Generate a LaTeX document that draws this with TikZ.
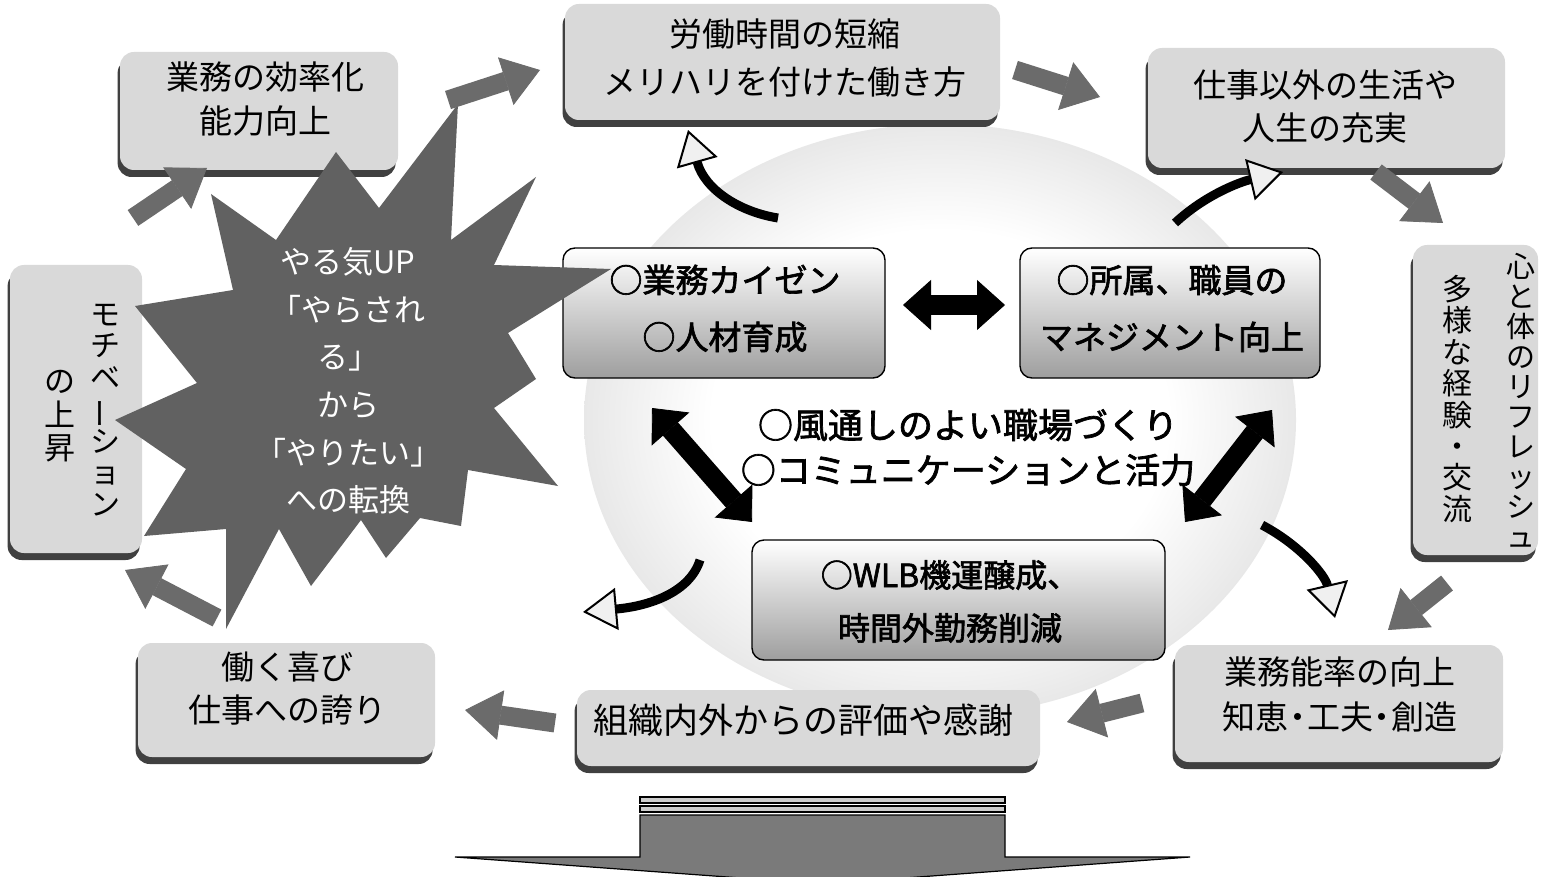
\documentclass[tikz,border=0pt]{standalone}
\usepackage{fontspec}
\setmainfont{Noto Sans CJK JP}
\newfontfamily\jpb[FakeBold=2]{Noto Sans CJK JP}
\usetikzlibrary{arrows.meta,shadows}
\pgfdeclareradialshading{halo}{\pgfpoint{0bp}{0bp}}{color(0bp)=(white); color(16bp)=(white); color(25bp)=(black!9); color(50bp)=(black!9)}
\newcommand\tatebou{\rotatebox[origin=c]{90}{ー}}
\newcommand\nakaten{\makebox[0.55em]{・}}
\tikzset{
  obox/.style={rounded corners=7pt, fill=black!15, draw=none, inner sep=0pt,
    drop shadow={shadow xshift=-1.2pt, shadow yshift=-3.5pt, fill=black!75, opacity=1}},
  cbox/.style={rounded corners=6pt, draw=black, line width=0.7pt, inner sep=0pt,
    top color=white, middle color=black!8, bottom color=black!38},
  otext/.style={align=center, inner sep=0pt, text=black},
  btext/.style={align=center, inner sep=0pt, text=black},
  barrow/.style={line width=9.5pt, draw=black!58,
    -{Triangle[length=18pt,width=25pt,line width=0.4pt]}},
  dblarrow/.style={line width=10pt, draw=black,
    {Triangle[length=14pt,width=25pt,line width=0.4pt]}-{Triangle[length=14pt,width=25pt,line width=0.4pt]}},
  carrow/.style={line width=4.5pt, draw=black,
    -{Triangle[length=17pt,width=21pt,fill=black!6,line width=1pt]}},
}
\begin{document}
\begin{tikzpicture}[x=0.5pt,y=-0.5pt]
\clip (0,0) rectangle (1541,877);
\fill[white] (0,0) rectangle (1541,877);

% background halo
\shade[shading=halo] (940,420) ellipse [x radius=178pt, y radius=148pt];

% outer boxes
\node[obox, minimum width=139pt, minimum height=59pt] (boxA) at (259,111) {};
\node[obox, minimum width=217.5pt, minimum height=58pt] (boxB) at (782.5,62) {};
\node[obox, minimum width=178.5pt, minimum height=60pt] (boxC) at (1326.5,108) {};
\node[obox, minimum width=62.5pt, minimum height=155pt] (boxD) at (1475.5,400) {};
\node[obox, minimum width=164pt, minimum height=58.5pt] (boxE) at (1339,703.5) {};
\node[obox, minimum width=231.5pt, minimum height=38pt] (boxF) at (808.5,728) {};
\node[obox, minimum width=148.5pt, minimum height=57pt] (boxG) at (286.5,700) {};
\node[obox, minimum width=66pt, minimum height=144pt] (boxH) at (76,409) {};

% centre boxes
\node[cbox, minimum width=161pt, minimum height=65pt] (boxI) at (724,313) {};
\node[cbox, minimum width=150pt, minimum height=65pt] (boxJ) at (1170,313) {};
\node[cbox, minimum width=206.5pt, minimum height=60pt] (boxK) at (958.5,600) {};

% star
\fill[black!62] (458,104) -- (451,240) -- (536,177) -- (494,265) -- (611,269) -- (508,333)
  -- (536,379) -- (494,408) -- (558,486) -- (468,470) -- (461,526) -- (420,518)
  -- (386,558) -- (361,520) -- (311,586) -- (279,529) -- (226,629) -- (226,529)
  -- (144,536) -- (186,469) -- (115,420) -- (197,383) -- (135,306) -- (233,290)
  -- (211,194) -- (276,240) -- (336,152) -- (379,208) -- cycle;

% block arrows around the cycle
\coordinate (ab1) at (448,100); \coordinate (ab2) at (540,70);
\coordinate (bc1) at (1015,70); \coordinate (bc2) at (1100,97);
\coordinate (cd1) at (1376,172); \coordinate (cd2) at (1443,223);
\coordinate (de1) at (1447,583); \coordinate (de2) at (1388,630);
\coordinate (ef1) at (1142,703); \coordinate (ef2) at (1067,722);
\coordinate (fg1) at (555,723); \coordinate (fg2) at (465,710);
\coordinate (gh1) at (217,618); \coordinate (gh2) at (125,570);
\coordinate (ha1) at (133,218); \coordinate (ha2) at (207,168);
\draw[barrow] (ab1) -- (ab2);
\draw[barrow] (bc1) -- (bc2);
\draw[barrow] (cd1) -- (cd2);
\draw[barrow] (de1) -- (de2);
\draw[barrow] (ef1) -- (ef2);
\draw[barrow] (fg1) -- (fg2);
\draw[barrow] (gh1) -- (gh2);
\draw[barrow] (ha1) -- (ha2);

% black double arrows
\coordinate (ij1) at (903,305); \coordinate (ij2) at (1005,305);
\coordinate (ik1) at (652,408); \coordinate (ik2) at (752,522);
\coordinate (jk1) at (1272,410); \coordinate (jk2) at (1185,522);
\draw[dblarrow] (ij1) -- (ij2);
\draw[dblarrow] (ik1) -- (ik2);
\draw[dblarrow] (jk1) -- (jk2);

% curved arrows
\coordinate (c1s) at (778,218); \coordinate (c1e) at (688,130);
\coordinate (c2s) at (1175,223); \coordinate (c2e) at (1283,172);
\coordinate (c3s) at (1262,525); \coordinate (c3e) at (1335,618);
\coordinate (c4s) at (700,560); \coordinate (c4e) at (583,612);
\draw[carrow] (c1s) .. controls (740,212) and (705,190) .. (c1e);
\draw[carrow] (c2s) .. controls (1205,195) and (1240,182) .. (c2e);
\draw[carrow] (c3s) .. controls (1300,545) and (1325,575) .. (c3e);
\draw[carrow] (c4s) .. controls (690,592) and (650,606) .. (c4e);

% bottom big arrow
\filldraw[fill=black!20, draw=black, line width=0.6pt] (640,797) rectangle (1005,803);
\filldraw[fill=black!20, draw=black, line width=0.6pt] (640,806) rectangle (1005,812);
\filldraw[fill=black!52, draw=black, line width=0.6pt] (640,815) -- (1005,815) -- (1005,857)
  -- (1190,857) -- (823,884) -- (455,857) -- (640,857) -- cycle;

% texts of outer boxes
\node[otext, font=\fontsize{16.5}{22}\selectfont] (tA) at (265,99) {業務の効率化\\能力向上};
\node[otext, font=\fontsize{16.5}{24}\selectfont] (tB) at (785,58) {労働時間の短縮\\メリハリを付けた働き方};
\node[otext, font=\fontsize{16.5}{21.5}\selectfont] (tC) at (1325,106.5) {仕事以外の生活や\\人生の充実};
\node[otext, font=\fontsize{14.5}{15}\selectfont] (tD1) at (1521,400) {心\\と\\体\\の\\リ\\フ\\レ\\ッ\\シ\\ュ};
\node[otext, font=\fontsize{15}{15.7}\selectfont] (tD2) at (1457,399) {多\\様\\な\\経\\験\\・\\交\\流};
\node[otext, font=\fontsize{16.5}{22.5}\selectfont] (tE) at (1340,694.5) {業務能率の向上\\知恵\nakaten 工夫\nakaten 創造};
\node[otext, font=\fontsize{17.5}{22}\selectfont] (tF) at (803,720) {組織内外からの評価や感謝};
\node[otext, font=\fontsize{16.5}{21.5}\selectfont] (tG) at (287,688.5) {働く喜び\\仕事への誇り};
\node[otext, font=\fontsize{15}{15.85}\selectfont] (tH1) at (105,410) {モ\\チ\\ベ\\\tatebou\\シ\\ョ\\ン};
\node[otext, font=\fontsize{15.5}{16.75}\selectfont] (tH2) at (60,416.5) {の\\上\\昇};

% centre texts
\node[btext, font=\jpb\fontsize{16.5}{28.5}\selectfont] (tI) at (725,308.5) {○業務カイゼン\\○人材育成};
\node[btext, font=\jpb\fontsize{16.5}{28.5}\selectfont] (tJ) at (1172,308.5) {○所属、職員の\\マネジメント向上};
\node[btext, font=\jpb\fontsize{16}{26.5}\selectfont] (tK) at (950,601.5) {○WLB機運醸成、\\時間外勤務削減};
\node[btext, font=\jpb\fontsize{17.5}{22.5}\selectfont] (tM) at (968,447.5) {○風通しのよい職場づくり\\○コミュニケーションと活力};

% star text
\node[otext, text=white, font=\fontsize{15.5}{23.8}\selectfont] (tS) at (348,381) {やる気UP\\「やらされ\\る」\\から\\「やりたい」\\への転換};
\end{tikzpicture}
\end{document}
